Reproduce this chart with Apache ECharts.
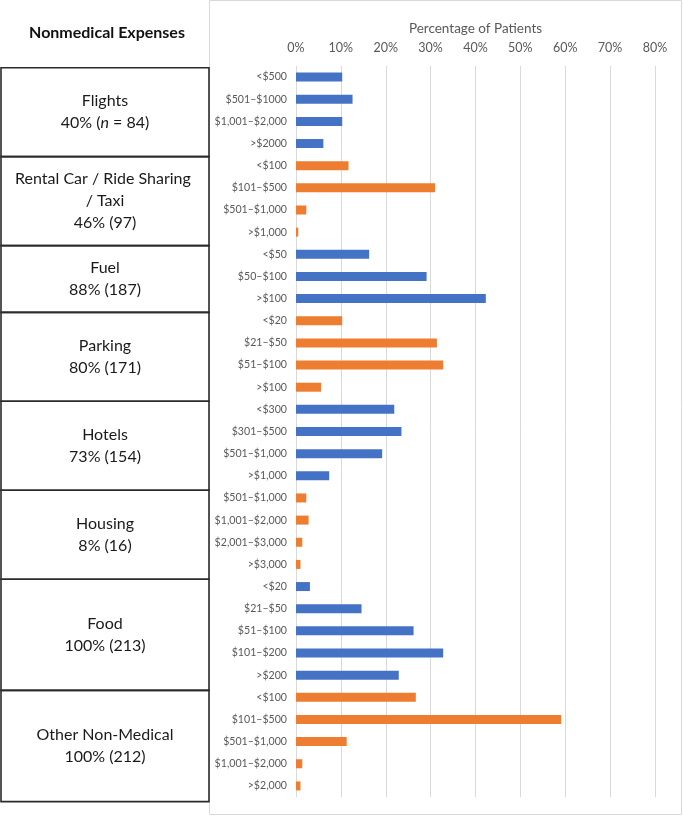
<!DOCTYPE html>
<html><head><meta charset="utf-8">
<script src="https://cdn.jsdelivr.net/npm/echarts@6/dist/echarts.min.js"></script>
<style>html,body{margin:0;padding:0;background:#fff;}#c{width:683px;height:816px;}</style>
</head><body><div id="c"></div>
<script>
const groupNames = ['Flights', 'Rental Car / Ride Sharing / Taxi', 'Fuel', 'Parking', 'Hotels', 'Housing', 'Food', 'Other Non-Medical'];
const groupPercents = [40, 46, 88, 80, 73, 8, 100, 100];
const groupCounts = [84, 97, 187, 171, 154, 16, 213, 212];
const groupSizes = [4, 4, 3, 4, 4, 4, 5, 5];
const categories = [
  '<$500', '$501–$1000', '$1,001–$2,000', '>$2000',
  '<$100', '$101–$500', '$501–$1,000', '>$1,000',
  '<$50', '$50–$100', '>$100',
  '<$20', '$21–$50', '$51–$100', '>$100',
  '<$300', '$301–$500', '$501–$1,000', '>$1,000',
  '$501–$1,000', '$1,001–$2,000', '$2,001–$3,000', '>$3,000',
  '<$20', '$21–$50', '$51–$100', '$101–$200', '>$200',
  '<$100', '$101–$500', '$501–$1,000', '$1,001–$2,000', '>$2,000'
];
const values = [
  10.3, 12.6, 10.3, 6.1,
  11.7, 31.0, 2.3, 0.5,
  16.3, 29.1, 42.3,
  10.3, 31.4, 32.8, 5.6,
  21.9, 23.5, 19.2, 7.4,
  2.3, 2.8, 1.4, 1.0,
  3.1, 14.6, 26.2, 32.8, 22.9,
  26.7, 59.1, 11.3, 1.4, 1.0
];
const xTicks = [0, 10, 20, 30, 40, 50, 60, 70, 80];
const axisTitle = 'Percentage of Patients';
const tableTitle = 'Nonmedical Expenses';

(function () {
const BLUE = '#4472C4', ORANGE = '#ED7D31';
const FONT = 'Lato, "Open Sans", sans-serif';

const groupOf = [];
groupSizes.forEach((s, g) => { for (let i = 0; i < s; i++) groupOf.push(g); });
const catKeys = categories.map((c, i) => String(i));

const chart = echarts.init(document.getElementById('c'), null, { renderer: 'canvas' });
chart.setOption({
  animation: false,
  backgroundColor: '#fff',
  grid: { left: 296, right: 28, top: 66, bottom: 19, containLabel: false },
  xAxis: {
    type: 'value', position: 'top',
    min: xTicks[0], max: xTicks[xTicks.length - 1], interval: xTicks[1] - xTicks[0],
    axisLine: { show: false }, axisTick: { show: false },
    splitLine: { lineStyle: { color: '#d9d9d9', width: 1 } },
    axisLabel: { formatter: v => v + '%', color: '#595959', fontSize: 12.5, fontFamily: FONT, margin: 12 },
    name: axisTitle, nameLocation: 'middle', nameGap: 28,
    nameTextStyle: { color: '#595959', fontSize: 13.5, fontFamily: FONT }
  },
  yAxis: {
    type: 'category', inverse: true, data: catKeys,
    axisLine: { show: false }, axisTick: { show: false },
    axisLabel: { formatter: (v) => categories[+v], color: '#595959', fontSize: 10.6, fontFamily: FONT, margin: 9, interval: 0 }
  },
  series: [{
    type: 'bar', barWidth: 9,
    data: values.map((v, i) => ({ value: v, itemStyle: { color: groupOf[i] % 2 === 0 ? BLUE : ORANGE } }))
  }]
});

const c0 = chart.convertToPixel({ yAxisIndex: 0 }, catKeys[0]);
const c1 = chart.convertToPixel({ yAxisIndex: 0 }, catKeys[1]);
const step = (c1 - c0) * 1.004;
const tableTop = c0 - (c1 - c0) / 2 + 1.7;
const graphics = [];
graphics.push({ type: 'rect', shape: { x: 209.5, y: 0.5, width: 472, height: 814 }, style: { fill: 'none', stroke: '#d9d9d9', lineWidth: 1 }, z: 0 });
graphics.push({ type: 'text', x: 107, y: 33, style: { text: tableTitle, fill: '#111', font: 'bold 16px ' + FONT, align: 'center', verticalAlign: 'middle' } });
let yy = tableTop;
groupSizes.forEach((s, g) => {
  const h = s * step;
  graphics.push({ type: 'rect', shape: { x: 1, y: yy, width: 208, height: h }, style: { fill: 'none', stroke: '#2b2b2b', lineWidth: 1.6 }, z: 5 });
  const stat = g === 0 ? `${groupPercents[g]}% ({i|n} = ${groupCounts[g]})` : `${groupPercents[g]}% (${groupCounts[g]})`;
  graphics.push({
    type: 'text', x: 105, y: yy + h / 2, z: 6,
    style: {
      text: groupNames[g] + '\n' + stat,
      width: 182, overflow: 'break',
      fill: '#1a1a1a', fontSize: 16, fontFamily: FONT, lineHeight: 22,
      align: 'center', verticalAlign: 'middle',
      rich: { i: { fontStyle: 'italic', fontSize: 16, fontFamily: FONT, fill: '#1a1a1a', lineHeight: 22 } }
    }
  });
  yy += h;
});
chart.setOption({ graphic: graphics });
})();
</script>
</body></html>
